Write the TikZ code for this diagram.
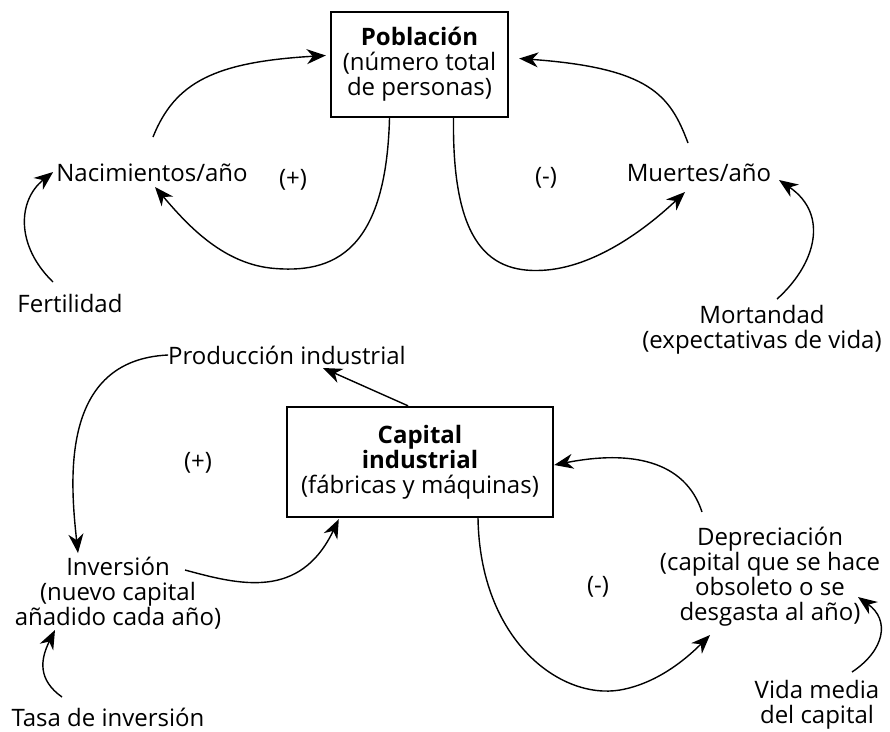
\documentclass[tikz,border=0pt]{standalone}
\usepackage{fontspec}
\setmainfont{Open Sans}
\usepackage{tikz}
\usetikzlibrary{calc, arrows.meta}

\begin{document}
\begin{tikzpicture}[x=1pt,y=-1pt,
    every node/.style={font=\fontsize{24}{25}\selectfont,inner sep=0pt,align=center},
    caja/.style={draw,line width=2.4pt},
    flecha/.style={-{Stealth[length=19pt,width=15pt,inset=6pt]},line width=1.4pt}]
    \useasboundingbox (0,0) rectangle (890,731);
    % nodos
    \node[caja,minimum width=177,minimum height=105] (pob) at (419.5,64.5) {\textbf{Población}\\(número total\\de personas)}; %人口
    \node (nac) at (152,173) {Nacimientos/año}; %出生
    \node (mue) at (699,173) {Muertes/año}; %死亡
    \node (fert) at (70,303) {Fertilidad};
    \node (mort) at (762,330) {Mortandad\\(expectativas de vida)};
    \node (pos1) at (293,180) {(+)};
    \node (neg1) at (546,178) {(-)};
    \node (prod) at (287,355) {Producción industrial}; %生産
    \node[caja,minimum width=266,minimum height=110] (cap) at (420,462) {\textbf{Capital}\\\textbf{industrial}\\(fábricas y máquinas)}; %資本
    \node (inv) at (118,593) {Inversión\\(nuevo capital\\añadido cada año)}; %投資
    \node (tasa) at (108,717) {Tasa de inversión};
    \node (dep) at (770,577) {Depreciación\\(capital que se hace\\obsoleto o se\\desgasta al año)}; %減価償却
    \node (vida) at (817,705) {Vida media\\del capital};
    \node (pos2) at (198,463) {(+)};
    \node (neg2) at (598,587) {(-)};
    % lazos de la población
    \draw[flecha] ($(nac)+(1,-36)$) .. controls (175,82) and (215,62) .. ($(pob.west)+(-4,-9)$);
    \draw[flecha] ($(pob.south)+(-30,0)$) .. controls (386,250) and (335,275) .. (270,268) .. controls (220,262) and (185,222) .. ($(nac)+(3,14)$);
    \draw[flecha] ($(fert)+(-17,-21)$) .. controls (15,245) and (18,200) .. ($(nac.west)+(-3,-1)$);
    \draw[flecha] ($(mue)+(-11,-30)$) .. controls (670,95) and (650,68) .. ($(pob.east)+(10,-6)$);
    \draw[flecha] ($(pob.south)+(34,0)$) .. controls (452,245) and (490,275) .. (547,270) .. controls (600,265) and (650,225) .. ($(mue)+(-14,19)$);
    \draw[flecha] ($(mort)+(15,-31)$) .. controls (815,265) and (830,215) .. ($(mue)+(80,7)$);
    % lazos del capital
    \draw[flecha] ($(cap.north)+(-12,0)$) -- ($(prod)+(36,13)$);
    \draw[flecha] (prod.west) .. controls (60,360) and (70,480) .. ($(inv)+(-40,-40)$);
    \draw[flecha] ($(inv)+(67,-23)$) .. controls (240,585) and (300,600) .. ($(cap.south west)+(53,1)$);
    \draw[flecha] ($(dep)+(-68,-65)$) .. controls (685,460) and (630,450) .. ($(cap.east)+(0,3)$);
    \draw[flecha] ($(cap.south)+(58,0)$) .. controls (480,640) and (560,700) .. (620,690) .. controls (660,683) and (690,655) .. ($(dep)+(-60,58)$);
    \draw[flecha] ($(vida)+(35,-33)$) .. controls (885,650) and (890,620) .. ($(dep)+(88,20)$);
    \draw[flecha] ($(tasa)+(-46,-20)$) .. controls (38,680) and (40,660) .. ($(inv)+(-63,37)$);
\end{tikzpicture}
\end{document}
